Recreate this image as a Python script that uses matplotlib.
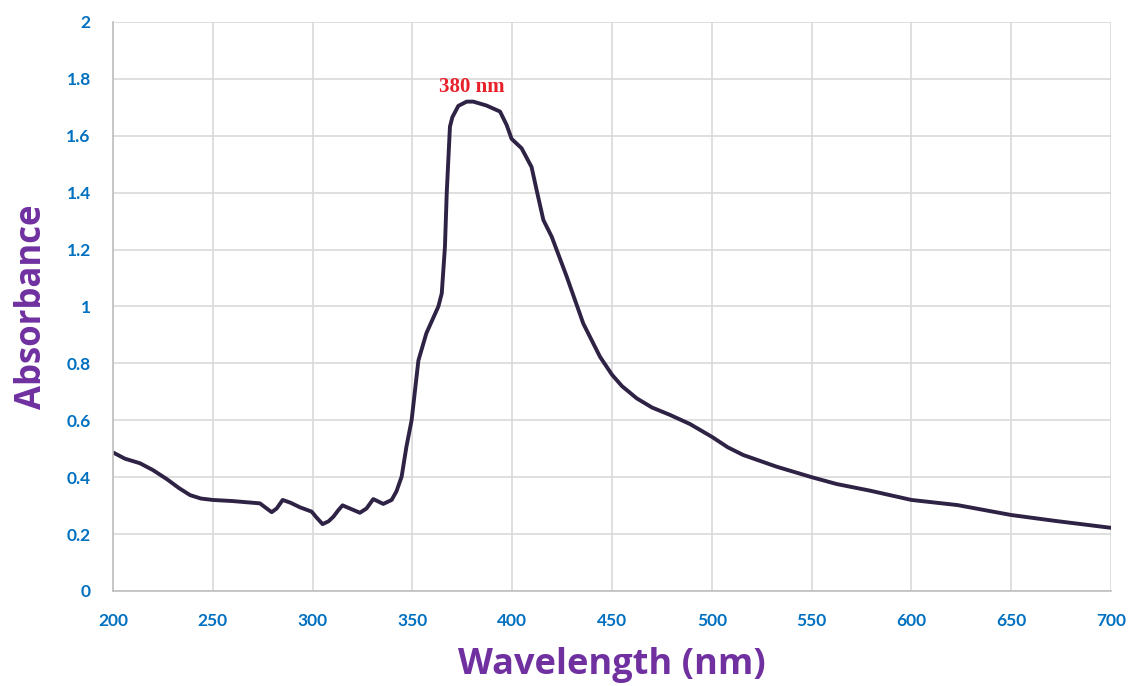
import matplotlib.pyplot as plt

# wavelength (nm) and absorbance
wavelength = [200, 206, 213.5, 220, 227, 233, 238.6, 244, 250, 260, 273.6, 277, 279.5,
              282, 285, 289, 293.7, 299.5, 302, 305, 308, 310.4, 313, 315, 318,
              323.7, 327, 330.4, 335.4, 339.6, 342, 344.6, 347, 349.6,
              353, 357, 363, 364.7, 366.3, 367.2, 368.8, 370, 373, 377.2, 380.5,
              387.2, 393.9, 397.2, 399.7, 404.7, 409.7, 412.2, 415.6, 419.8,
              427.3, 435.6, 444, 450, 455, 462.4, 470, 479, 489, 500, 508, 515.7,
              532.4, 550, 562.5, 579, 600, 623, 650, 672.4, 700]
absorbance = [0.487, 0.465, 0.449, 0.425, 0.393, 0.362, 0.337, 0.325, 0.32, 0.316, 0.308,
              0.29, 0.277, 0.29, 0.32, 0.31, 0.294, 0.279, 0.258, 0.235, 0.245, 0.261,
              0.285, 0.301, 0.292, 0.275, 0.29, 0.323, 0.306, 0.32, 0.35, 0.402,
              0.507, 0.60, 0.81, 0.906, 1.0, 1.046, 1.21, 1.40, 1.632, 1.665, 1.705,
              1.72, 1.72, 1.706, 1.685, 1.638, 1.589, 1.556, 1.49, 1.41, 1.304, 1.245,
              1.105, 0.94, 0.823, 0.76, 0.72, 0.677, 0.645, 0.619, 0.587, 0.542,
              0.505, 0.478, 0.437, 0.40, 0.376, 0.353, 0.32, 0.302, 0.267, 0.246, 0.222]

x_ticks = [200, 250, 300, 350, 400, 450, 500, 550, 600, 650, 700]
y_ticks = [0, 0.2, 0.4, 0.6, 0.8, 1, 1.2, 1.4, 1.6, 1.8, 2]
y_labels = ["0", "0.2", "0.4", "0.6", "0.8", "1", "1.2", "1.4", "1.6", "1.8", "2"]

fig = plt.figure(figsize=(11.46, 6.86), dpi=100)
ax = fig.add_axes([0.0986, 0.1385, 0.8709, 0.8295])

ax.plot(wavelength, absorbance, color="#2E2245", lw=2.8,
        solid_capstyle="round", solid_joinstyle="round")

ax.set_xlim(200, 700)
ax.set_ylim(0, 2)
ax.set_xticks(x_ticks)
ax.set_yticks(y_ticks)
ax.set_yticklabels(y_labels)
ax.grid(True, color="#D9D9D9", lw=1.2)
ax.set_axisbelow(True)
for s in ["top", "right"]:
    ax.spines[s].set_visible(False)
for s in ["left", "bottom"]:
    ax.spines[s].set_color("#BFBFBF")
    ax.spines[s].set_linewidth(1.2)
ax.tick_params(length=0, pad=16, labelsize=12.5, labelcolor="#0070C0")
for lab in ax.get_xticklabels() + ax.get_yticklabels():
    lab.set_fontweight("bold")
    lab.set_family("Lato")

ax.set_xlabel("Wavelength (nm)", fontsize=26, fontweight="bold", color="#7030A0",
              family="Open Sans", labelpad=13)
ax.set_ylabel("Absorbance", fontsize=25, fontweight="bold", color="#7030A0",
              family="Open Sans", labelpad=12)

ax.text(380, 1.735, "380 nm", color="#E8202A", fontsize=15, fontweight="bold",
        family="Liberation Serif", ha="center", va="bottom")

fig.savefig("out.png", dpi=100)
